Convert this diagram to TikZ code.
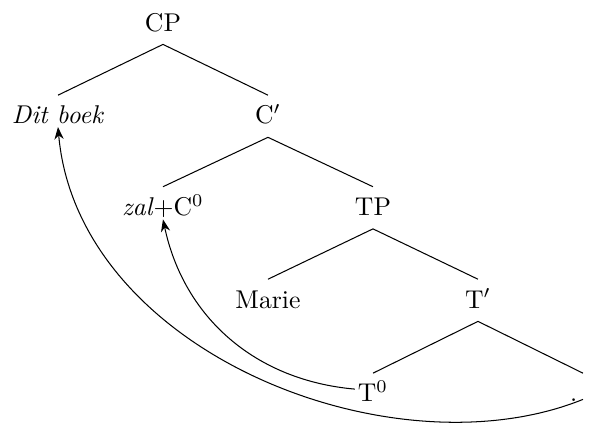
\documentclass[tikz,border=0pt]{standalone}
\usepackage{amsmath}
\usepackage{tikz}
\usetikzlibrary{arrows.meta}

\begin{document}
\begin{tikzpicture}[
    >=Stealth,
    cat/.style={inner sep=3pt, text height=8pt, text depth=2pt},
    branch/.style={draw, line width=0.4pt},
]
  \useasboundingbox (0,0) rectangle (8.069,-5.840);
  % CP and its daughters
  \node[cat] (cp) at (2.229,-0.319) {CP};
  \node[cat] (spec) at (0.793,-1.590) {\textit{Dit boek}};
  \node[cat] (cbar) at (3.665,-1.590) {C$'$};
  % C-bar level
  \node[cat] (czero) at (2.229,-2.842) {\textit{zal}+C$^0$};
  \node[cat] (tp) at (5.101,-2.842) {TP};
  % TP level
  \node[cat] (marie) at (3.665,-4.107) {Marie};
  \node[cat] (tbar) at (6.537,-4.107) {T$'$};
  % T-bar level
  \node[cat] (tzero) at (5.101,-5.392) {T$^0$};
  \node[cat] (stop) at (7.973,-5.392) {.\hphantom{T}};
  % Branches
  \draw[branch] (cp.south) -- (spec.north);
  \draw[branch] (cp.south) -- (cbar.north);
  \draw[branch] (cbar.south) -- (czero.north);
  \draw[branch] (cbar.south) -- (tp.north);
  \draw[branch] (tp.south) -- (marie.north);
  \draw[branch] (tp.south) -- (tbar.north);
  \draw[branch] (tbar.south) -- (tzero.north);
  \draw[branch] (tbar.south) -- (stop.north);
  % Movement arrows
  \draw[->] ([xshift=2pt,yshift=5pt]tzero.base west) to[out=175, in=-78]
      ([yshift=-1.5pt]czero.base);
  \draw[->] ([yshift=-2pt]stop.center) .. controls +(-158:2.81) and +(-85:3.09) ..
      ([yshift=-1.2pt]spec.base);
\end{tikzpicture}
\end{document}
